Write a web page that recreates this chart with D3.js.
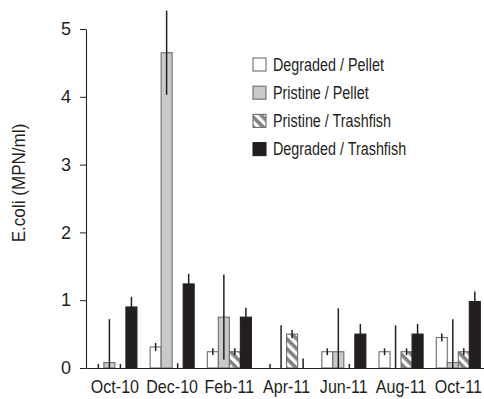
<!DOCTYPE html>
<html>
<head>
<meta charset="utf-8">
<script src="https://cdn.jsdelivr.net/npm/d3@7"></script>
<style>
  body { margin: 0; background: #fff; }
</style>
</head>
<body>
<svg id="chart" width="484" height="399"></svg>
<script>
const categories = ['Oct-10', 'Dec-10', 'Feb-11', 'Apr-11', 'Jun-11', 'Aug-11', 'Oct-11'];
const seriesNames = ['Degraded / Pellet', 'Pristine / Pellet', 'Pristine / Trashfish', 'Degraded / Trashfish'];

const degradedPellet = [0, 0.31, 0.24, 0, 0.24, 0.24, 0.45];
const degradedPelletErr = [0.06, 0.06, 0.05, 0.06, 0.05, 0.05, 0.06];
const pristinePellet = [0.08, 4.65, 0.75, 0, 0.24, 0, 0.08];
const pristinePelletErr = [0.64, 0.62, 0.63, 0.63, 0.64, 0.63, 0.64];
const pristineTrashfish = [0, 0, 0.24, 0.5, 0, 0.24, 0.24];
const pristineTrashfishErr = [0.06, 0.07, 0.05, 0.06, 0.06, 0.05, 0.05];
const degradedTrashfish = [0.9, 1.24, 0.75, 0, 0.5, 0.5, 0.98];
const degradedTrashfishErr = [0.15, 0.15, 0.14, 0.14, 0.15, 0.15, 0.15];

const yTicks = [0, 1, 2, 3, 4, 5];

const values = [degradedPellet, pristinePellet, pristineTrashfish, degradedTrashfish];
const errors = [degradedPelletErr, pristinePelletErr, pristineTrashfishErr, degradedTrashfishErr];

const STYLES = [
  {fill: '#ffffff', stroke: '#6d6e70'},
  {fill: '#c9c9ca', stroke: '#6d6e70'},
  {fill: 'url(#hatch)', stroke: '#6d6e70'},
  {fill: '#231f20', stroke: '#231f20'},
];
const FONT = '"Liberation Sans", Arial, sans-serif';
const NARROW = 0.82; // no narrow face installed, squeeze the regular one

const svg = d3.select('#chart');

const defs = svg.append('defs');
const pattern = defs.append('pattern')
  .attr('id', 'hatch')
  .attr('patternUnits', 'userSpaceOnUse')
  .attr('width', 7)
  .attr('height', 7)
  .attr('patternTransform', 'rotate(45)');
pattern.append('rect').attr('width', 7).attr('height', 7).attr('fill', '#ffffff');
pattern.append('rect').attr('width', 7).attr('height', 3.6).attr('fill', '#808285');

const x0 = d3.scaleBand()
  .domain(categories)
  .range([86, 487.2])
  .paddingInner(0.23)
  .paddingOuter(0.12);

const x1 = d3.scaleBand()
  .domain(d3.range(seriesNames.length))
  .range([0, x0.bandwidth()]);

const y = d3.scaleLinear().domain([0, 5]).range([368, 29]);

// bars
const bars = [];
values.forEach((series, s) => {
  series.forEach((v, i) => {
    bars.push({s: s, cat: categories[i], value: v, err: errors[s][i]});
  });
});

svg.append('g').selectAll('rect')
  .data(bars.filter((b) => b.value > 0))
  .join('rect')
  .attr('x', (b) => x0(b.cat) + x1(b.s))
  .attr('y', (b) => y(b.value))
  .attr('width', x1.bandwidth())
  .attr('height', (b) => y(0) - y(b.value))
  .attr('fill', (b) => STYLES[b.s].fill)
  .attr('stroke', (b) => STYLES[b.s].stroke)
  .attr('stroke-width', 1.1);

svg.append('g').selectAll('line')
  .data(bars)
  .join('line')
  .attr('x1', (b) => x0(b.cat) + x1(b.s) + x1.bandwidth() / 2)
  .attr('x2', (b) => x0(b.cat) + x1(b.s) + x1.bandwidth() / 2)
  .attr('y1', (b) => y(Math.max(0, b.value - b.err)))
  .attr('y2', (b) => y(b.value + b.err))
  .attr('stroke', '#231f20')
  .attr('stroke-width', 1.5);

// axes
const xAxis = svg.append('g')
  .attr('transform', `translate(0,${y(0)})`)
  .call(d3.axisBottom(x0).tickSize(0).tickSizeOuter(0).tickPadding(12.5));
xAxis.select('.domain').attr('stroke', '#231f20').attr('stroke-width', 1.1);
xAxis.selectAll('text')
  .attr('font-family', FONT)
  .attr('font-size', 17.5)
  .attr('fill', '#231f20')
  .attr('transform', 'scale(0.92,1)');

const yAxis = svg.append('g')
  .attr('transform', 'translate(86,0)')
  .call(d3.axisLeft(y).tickValues(yTicks).tickFormat(d3.format('d'))
    .tickSize(6).tickSizeOuter(0).tickPadding(9));
yAxis.select('.domain').attr('stroke', '#231f20').attr('stroke-width', 1.1);
yAxis.selectAll('.tick line').attr('stroke', '#231f20');
yAxis.selectAll('text')
  .attr('font-family', FONT)
  .attr('font-size', 18)
  .attr('fill', '#231f20');

svg.append('text')
  .attr('transform', 'translate(25,183) rotate(-90) scale(0.95,1)')
  .attr('text-anchor', 'middle')
  .attr('font-family', FONT)
  .attr('font-size', 18)
  .attr('fill', '#231f20')
  .text('E.coli (MPN/ml)');

// legend
const legend = svg.append('g').attr('transform', 'translate(253,58)');
const items = legend.selectAll('g')
  .data(seriesNames)
  .join('g')
  .attr('transform', (d, i) => `translate(0,${i * 28.2})`);
items.append('rect')
  .attr('width', 13)
  .attr('height', 13)
  .attr('fill', (d, i) => STYLES[i].fill)
  .attr('stroke', (d, i) => STYLES[i].stroke)
  .attr('stroke-width', 1.1);
items.append('text')
  .attr('transform', `translate(20,6.5) scale(${NARROW},1)`)
  .attr('dy', '0.36em')
  .attr('font-family', FONT)
  .attr('font-size', 17.5)
  .attr('fill', '#231f20')
  .text((d) => d);
</script>
</body>
</html>
